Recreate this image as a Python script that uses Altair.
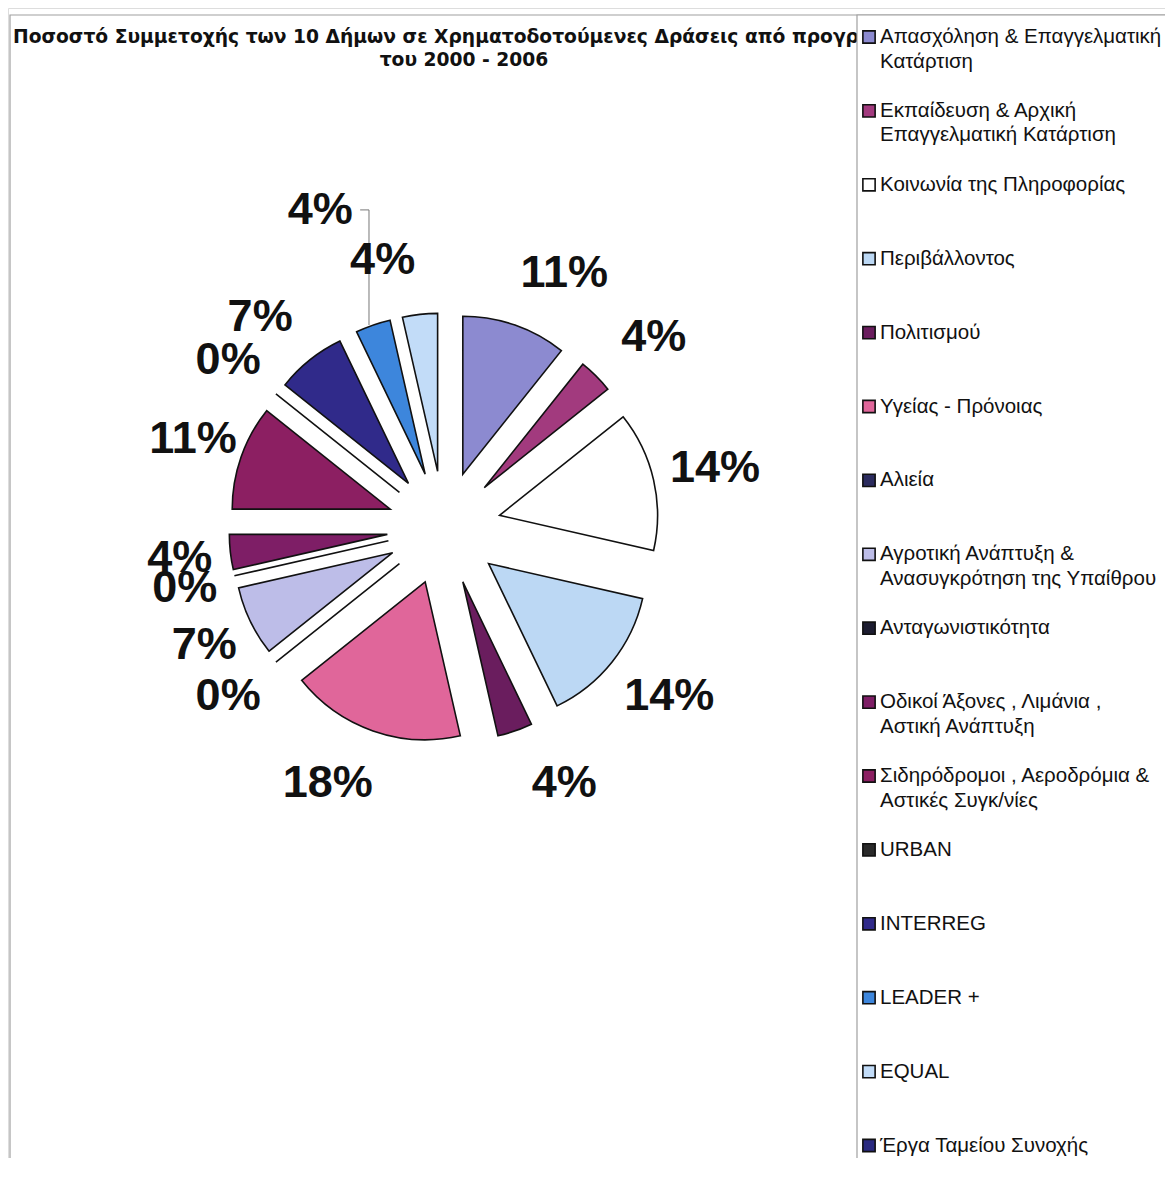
import altair as alt
import pandas as pd

# ---------------- data ----------------
categories = [
    "Απασχόληση & Επαγγελματική Κατάρτιση",
    "Εκπαίδευση & Αρχική Επαγγελματική Κατάρτιση",
    "Κοινωνία της Πληροφορίας",
    "Περιβάλλοντος",
    "Πολιτισμού",
    "Υγείας - Πρόνοιας",
    "Αλιεία",
    "Αγροτική Ανάπτυξη & Ανασυγκρότηση της Υπαίθρου",
    "Ανταγωνιστικότητα",
    "Οδικοί Άξονες , Λιμάνια , Αστική Ανάπτυξη",
    "Σιδηρόδρομοι , Αεροδρόμια & Αστικές Συγκ/νίες",
    "URBAN",
    "INTERREG",
    "LEADER +",
    "EQUAL",
    "Έργα Ταμείου Συνοχής",
]
legend_text = [
    "Απασχόληση & Επαγγελματική\nΚατάρτιση",
    "Εκπαίδευση & Αρχική\nΕπαγγελματική Κατάρτιση",
    "Κοινωνία της Πληροφορίας",
    "Περιβάλλοντος",
    "Πολιτισμού",
    "Υγείας - Πρόνοιας",
    "Αλιεία",
    "Αγροτική Ανάπτυξη &\nΑνασυγκρότηση της Υπαίθρου",
    "Ανταγωνιστικότητα",
    "Οδικοί Άξονες , Λιμάνια ,\nΑστική Ανάπτυξη",
    "Σιδηρόδρομοι , Αεροδρόμια &\nΑστικές Συγκ/νίες",
    "URBAN",
    "INTERREG",
    "LEADER +",
    "EQUAL",
    "Έργα Ταμείου Συνοχής",
]
# number of participations (shares shown as percentages); last one has no value
values = [3, 1, 4, 4, 1, 5, 0, 2, 0, 1, 3, 0, 2, 1, 1, None]
colors = [
    "#8c8ad0", "#a23a7e", "#ffffff", "#bcd8f4", "#6a1d5e", "#e0669a",
    "#2b2b5e", "#bdbde8", "#1c1c30", "#7e1e66", "#8c1f62", "#2a2a2a",
    "#302a8a", "#3d86dc", "#c2dcf8", "#2a2a80",
]
# the title as it is visible in the chart (the legend box hides its end)
title_lines = [
    "Ποσοστό Συμμετοχής των 10 Δήμων σε Χρηματοδοτούμενες Δράσεις από προγρ",
    "του 2000 - 2006",
]

df = pd.DataFrame({
    "order": list(range(len(categories))),
    "cat": categories,
    "legend": legend_text,
    "value": values,
})

# ---------------- layout constants (pixels) ----------------
W, H = 1157, 1150
CX, CY = 436, 520        # pie centre
EXPLODE = 57             # explosion distance of every slice
R = 158                  # pie radius
LABEL_RX_RIGHT, LABEL_RX_LEFT, LABEL_RY = 278, 266, 270
LABEL_SHIFT = 32         # extra sideways push of labels near the vertical
LEADER_RX, LEADER_RY = 375, 337
LEG_X = 860
LEG_Y0 = 29
LEG_STEP = 73.9

color_scale = alt.Scale(domain=categories, range=colors)
one = pd.DataFrame({"a": [0]})

# ---------------- frame & title ----------------
frame = alt.Chart(one).mark_rect(
    fill="white", stroke="#a0a0a0", strokeWidth=1.2
).encode(x=alt.value(2), x2=alt.value(1162), y=alt.value(7), y2=alt.value(1170))

title_font = dict(font="DejaVu Sans", fontSize=18.7, fontWeight="bold", color="#111111",
                  baseline="middle")
title1 = alt.Chart(one).mark_text(align="left", text=title_lines[0], **title_font).encode(
    x=alt.value(5), y=alt.value(29)
)
title2 = alt.Chart(one).mark_text(align="center", text=title_lines[1], **title_font).encode(
    x=alt.value(456), y=alt.value(52)
)

legend_box = alt.Chart(one).mark_rect(
    fill="white", stroke="#a0a0a0", strokeWidth=1.2
).encode(x=alt.value(849), x2=alt.value(1162), y=alt.value(7), y2=alt.value(1170))

# ---------------- pie ----------------
pie_base = alt.Chart(df).transform_filter(
    "isValid(datum.value)"
).transform_window(
    cum="sum(value)", sort=[alt.SortField("order", order="ascending")], frame=[None, 0]
).transform_joinaggregate(
    total="sum(value)"
).transform_calculate(
    a0="2*PI*(datum.cum - datum.value)/datum.total",
    a1="2*PI*datum.cum/datum.total",
).transform_calculate(
    mid="(datum.a0 + datum.a1)/2"
).transform_calculate(
    s="sin(datum.mid)", c="cos(datum.mid)",
).transform_calculate(
    cx=f"{CX} + {EXPLODE}*datum.s",
    cy=f"{CY} - {EXPLODE}*datum.c",
    ex=f"{CX} + {EXPLODE + R}*datum.s",
    ey=f"{CY} - {EXPLODE + R}*datum.c",
    leader="datum.cat == 'LEADER +'",
    pct="format(datum.value/datum.total, '.0%')",
).transform_calculate(
    lx=(f"datum.leader ? {CX} + {LEADER_RX}*datum.s : "
        f"{CX} + (datum.s >= 0 ? {LABEL_RX_RIGHT} : {LABEL_RX_LEFT})*datum.s + "
        f"{LABEL_SHIFT}*(datum.s >= 0 ? 1 : -1)*max(0, 2*abs(datum.c) - 1)"),
    ly=(f"datum.leader ? {CY} - {LEADER_RY}*datum.c : "
        f"{CY} - {LABEL_RY}*datum.c"),
)

slices = pie_base.mark_arc(
    outerRadius=R, stroke="#111111", strokeWidth=1.6, strokeJoin="miter"
).encode(
    x=alt.X("cx:Q", scale=None, axis=None),
    y=alt.Y("cy:Q", scale=None, axis=None),
    theta=alt.Theta("a0:Q", scale=None),
    theta2="a1:Q",
    color=alt.Color("cat:N", scale=color_scale, legend=None),
)

labels = pie_base.mark_text(
    font="Liberation Sans", fontSize=45, fontWeight="bold", color="#111111",
    align="center", baseline="middle"
).encode(
    x=alt.X("lx:Q", scale=None, axis=None),
    y=alt.Y("ly:Q", scale=None, axis=None),
    text="pct:N",
)

leader_base = pie_base.transform_filter("datum.leader").transform_calculate(
    hx="datum.lx + 40", vx="datum.ex - 4"
)
leader_h = leader_base.mark_rule(color="#777777", strokeWidth=1).encode(
    x=alt.X("hx:Q", scale=None, axis=None), x2="vx:Q",
    y=alt.Y("ly:Q", scale=None, axis=None),
)
leader_v = leader_base.mark_rule(color="#777777", strokeWidth=1).encode(
    x=alt.X("vx:Q", scale=None, axis=None),
    y=alt.Y("ly:Q", scale=None, axis=None), y2="ey:Q",
)

# ---------------- legend ----------------
leg_base = alt.Chart(df).transform_calculate(
    gy=f"{LEG_Y0} + datum.order*{LEG_STEP}"
).transform_calculate(
    ty="datum.gy - 10"
)
swatches = leg_base.mark_square(size=150, stroke="#111111", strokeWidth=1.6, opacity=1).encode(
    x=alt.value(LEG_X + 1),
    y=alt.Y("gy:Q", scale=None, axis=None),
    fill=alt.Fill("cat:N", scale=color_scale, legend=None),
)
leg_text = leg_base.mark_text(
    font="Liberation Sans", fontSize=20.5, color="#111111", align="left",
    baseline="top", lineBreak="\n", lineHeight=24.5
).encode(
    x=alt.value(LEG_X + 12),
    y=alt.Y("ty:Q", scale=None, axis=None),
    text="legend:N",
)

chart = alt.layer(
    frame, title1, title2, legend_box, slices, leader_h, leader_v, labels, swatches, leg_text
).properties(
    width=W, height=H, padding=0, autosize=alt.AutoSizeParams(type="none")
).configure_view(stroke=None).configure(background="white")

chart.save("out.html", embed_options={"renderer": "svg", "actions": False})
